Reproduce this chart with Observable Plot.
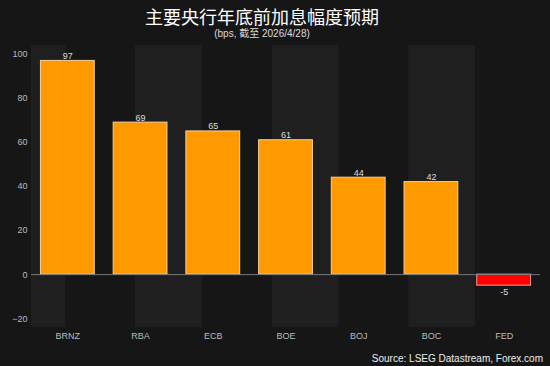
<!DOCTYPE html>
<html><head><meta charset="utf-8">
<script src="https://cdn.jsdelivr.net/npm/d3@7"></script>
<script src="https://cdn.jsdelivr.net/npm/@observablehq/plot@0.6"></script>
<style>
html,body{margin:0;padding:0;background:#161616;}
#wrap{position:relative;width:550px;height:366px;overflow:hidden;}
.t{position:absolute;left:0;width:524px;text-align:center;color:#fff;font-family:"Noto Sans CJK SC","Liberation Sans",sans-serif;}
#title{top:5px;font-size:18px;line-height:22px;}
#sub{top:28px;font-size:10px;line-height:12px;color:#ddd;font-family:"Liberation Sans","Noto Sans CJK SC",sans-serif;}
#src{position:absolute;right:7px;top:353px;font-size:10px;line-height:12px;color:#eee;font-family:"Liberation Sans",Arial,sans-serif;}
#chart{position:absolute;left:0;top:0;}
</style></head>
<body><div id="wrap"><div id="chart"></div>
<div id="title" class="t">主要央行年底前加息幅度预期</div>
<div id="sub" class="t">(bps, 截至 2026/4/28)</div>
<div id="src">Source: LSEG Datastream, Forex.com</div>
</div>
<script>
const banks = ["BRNZ","RBA","ECB","BOE","BOJ","BOC","FED"];
const hikes = [97, 69, 65, 61, 44, 42, -5];
const yTicks = [-20, 0, 20, 40, 60, 80, 100];
const bandStarts = [-0.95, 0.93, 2.81, 4.69];
const bandWidth = 0.92;

const data = banks.map((b, i) => ({bank: b, i, v: hikes[i]}));
const bands = bandStarts.map(s => ({x1: s, x2: s + bandWidth}));
const half = 0.37;

const chart = Plot.plot({
  width: 550, height: 366,
  marginLeft: 31, marginRight: 10, marginTop: 45, marginBottom: 39,
  style: {background: "transparent", fontFamily: "Liberation Sans, Arial, sans-serif", fontSize: "9px", color: "#bbb"},
  x: {type: "linear", domain: [-0.5, 6.5], ticks: d3.range(banks.length), tickFormat: i => banks[i], tickSize: 0, tickPadding: 5, label: null},
  y: {domain: [-24, 104], ticks: yTicks, tickSize: 0, tickPadding: 4, label: null},
  marks: [
    Plot.rect(bands, {x1: "x1", x2: "x2", y1: -24, y2: 104, fill: "#1f1f1f", clip: true}),
    Plot.rectY(data, {x1: d => d.i - half, x2: d => d.i + half, y1: 0, y2: "v",
      fill: d => d.v >= 0 ? "#ff9900" : "#ff0000",
      stroke: d => d.v >= 0 ? "#f3cfa0" : "#ff9a9a", strokeWidth: 1}),
    Plot.ruleY([0], {stroke: "#7a7a7a", strokeWidth: 1}),
    Plot.text(data.filter(d => d.v >= 0), {x: "i", y: "v", text: d => String(d.v), lineAnchor: "bottom", dy: -2, fill: "#ddd", fontSize: 9}),
    Plot.text(data.filter(d => d.v < 0), {x: "i", y: "v", text: d => String(d.v), lineAnchor: "top", dy: 3, fill: "#ddd", fontSize: 9})
  ]
});
document.getElementById("chart").append(chart);
</script></body></html>
